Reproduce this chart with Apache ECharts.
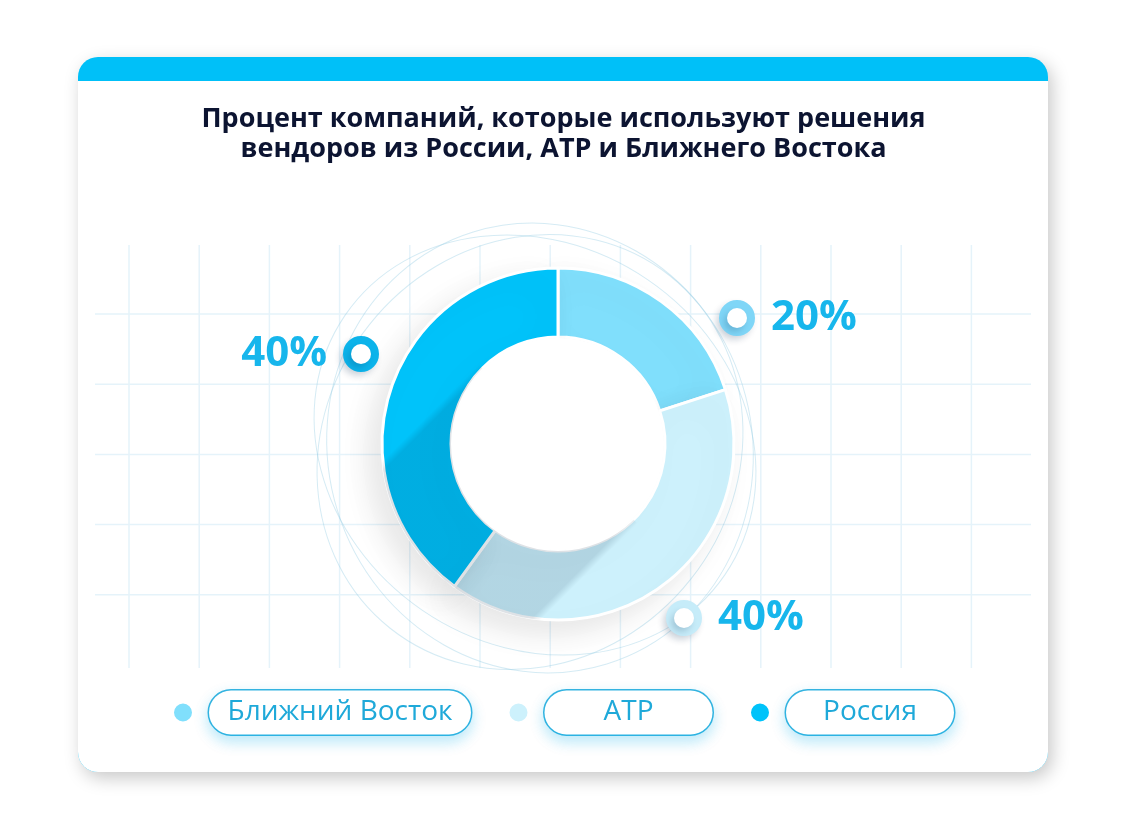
<!DOCTYPE html>
<html>
<head>
    <meta charset="utf-8">
    <title>Процент компаний</title>
    <script src="https://cdn.jsdelivr.net/npm/echarts@6/dist/echarts.min.js"></script>
    <style>
        html, body { margin: 0; padding: 0; background: #fff; }
        #chart { width: 1127px; height: 815px; }
    </style>
</head>
<body>
<div id="chart"></div>
<script>
    // данные
    var categories = ['Ближний Восток', 'АТР', 'Россия'];
    var shares = [20, 40, 40];

    // оформление
    var sliceColors = ['#80dffc', '#cdf1fc', '#00c3fa'];
    var ringColors = ['#7fd6f7', '#c6ecf9', '#0cb3ea'];
    var labelSpots = [[727, 318, 'left'], [674, 618, 'left'], [371, 354, 'right']];
    var pillWidths = [262, 168, 168];

    var cx = 558, cy = 444, rIn = 107, rOut = 176;
    var labelColor = '#17b6ec';

    var myChart = echarts.init(document.getElementById('chart'));

    // фон: карточка, сетка, тонкие эллипсы
    var bg = [
        { type: 'rect', z: 0, shape: { x: 78, y: 57, width: 970, height: 715, r: 20 },
          style: { fill: '#00c0f8', shadowColor: 'rgba(0,0,0,0.22)', shadowBlur: 18, shadowOffsetX: 4, shadowOffsetY: 6 } },
        { type: 'rect', z: 0, shape: { x: 78, y: 81, width: 970, height: 691, r: [0, 0, 20, 20] },
          style: { fill: '#fff' } }
    ];
    for (var i = 0; i < 13; i++) {
        var x = 129 + i * 70.2;
        bg.push({ type: 'line', z: 1, shape: { x1: x, y1: 245, x2: x, y2: 668 },
            style: { stroke: '#e5f3fa', lineWidth: 1.5 } });
    }
    for (var j = 0; j < 5; j++) {
        var y = 314 + j * 70.2;
        bg.push({ type: 'line', z: 1, shape: { x1: 95, y1: y, x2: 1031, y2: y },
            style: { stroke: '#e5f3fa', lineWidth: 1.5 } });
    }
    [[535, 445, 230, 200, -0.6], [540, 448, 212, 226, 0.3], [530, 452, 225, 205, 0.9]].forEach(function (e) {
        bg.push({ type: 'ellipse', z: 1, x: e[0], y: e[1], rotation: e[4],
            shape: { cx: 0, cy: 0, rx: e[2], ry: e[3] },
            style: { fill: 'none', stroke: 'rgba(150,205,228,0.4)', lineWidth: 1 } });
    });

    // длинная тень от внутреннего круга
    var a = rOut;
    bg.push({
        type: 'sector', z: 5, silent: true,
        shape: { cx: cx, cy: cy, r0: rIn, r: rOut + 1, startAngle: Math.PI / 4, endAngle: Math.PI * 5 / 4, clockwise: true },
        style: {
            fill: new echarts.graphic.LinearGradient(cx - a, cy - a, cx + a, cy + a, [
                { offset: 0, color: 'rgba(0,30,60,0)' },
                { offset: 0.275, color: 'rgba(0,30,60,0)' },
                { offset: 0.29, color: 'rgba(0,30,60,0.13)' },
                { offset: 0.71, color: 'rgba(0,30,60,0.13)' },
                { offset: 0.725, color: 'rgba(0,30,60,0)' },
                { offset: 1, color: 'rgba(0,30,60,0)' }
            ], true)
        }
    });
    // чистый белый круг в центре
    bg.push({ type: 'circle', z: 6, silent: true, shape: { cx: cx, cy: cy, r: rIn - 1 }, style: { fill: '#fff' } });

    var pieData = categories.map(function (name, k) {
        var txt = k === 2 ? '{v|{c}%}{s|}{r|}' : '{r|}{s|}{v|{c}%}';
        return {
            name: name,
            value: shares[k],
            itemStyle: { color: sliceColors[k] },
            label: {
                formatter: txt,
                rich: {
                    r: { width: 20, height: 20, borderWidth: 8, borderRadius: 14, borderColor: ringColors[k],
                         backgroundColor: '#fff', verticalAlign: 'middle',
                         shadowColor: 'rgba(0,40,80,0.18)', shadowBlur: 6, shadowOffsetX: -3, shadowOffsetY: 4 }
                }
            }
        };
    });

    var rich = {};
    categories.forEach(function (name, k) {
        rich['p' + k] = {
            width: pillWidths[k], height: 44, lineHeight: 44, align: 'center', verticalAlign: 'middle',
            fontSize: 28, color: '#1fa9d9', fontFamily: 'Open Sans',
            borderColor: '#36b4e0', borderWidth: 1.5, borderRadius: 23, backgroundColor: '#fff',
            shadowColor: 'rgba(0,175,235,0.25)', shadowBlur: 14, shadowOffsetY: 6
        };
    });

    myChart.setOption({
        animation: false,
        title: {
            text: 'Процент компаний, которые используют решения\nвендоров из России, АТР и Ближнего Востока',
            left: 'center',
            top: 99,
            textStyle: { fontFamily: 'Open Sans', fontWeight: 'bold', fontSize: 27, lineHeight: 30, color: '#0c1431' }
        },
        legend: {
            data: categories,
            left: 167,
            top: 684,
            icon: 'circle',
            itemWidth: 42,
            itemHeight: 20,
            itemGap: 35,
            selectedMode: false,
            formatter: function (name) {
                return '{p' + categories.indexOf(name) + '|' + name + '}';
            },
            textStyle: { rich: rich }
        },
        graphic: { elements: bg },
        series: [{
            type: 'pie',
            z: 2,
            center: [cx, cy],
            radius: [rIn, rOut],
            startAngle: 90,
            avoidLabelOverlap: false,
            itemStyle: { borderColor: '#fff', borderWidth: 3,
                shadowColor: 'rgba(0,0,0,0.1)', shadowBlur: 30, shadowOffsetX: -12, shadowOffsetY: 12 },
            label: {
                show: true,
                position: 'outside',
                rich: {
                    v: { fontSize: 42, fontWeight: 'bold', fontFamily: 'Open Sans', color: labelColor, verticalAlign: 'middle', lineHeight: 46 },
                    s: { width: 24 }
                }
            },
            labelLine: { show: false },
            labelLayout: function (p) {
                var s = labelSpots[p.dataIndex];
                return { x: s[0], y: s[1], align: s[2], verticalAlign: 'middle' };
            },
            emphasis: { disabled: true },
            data: pieData
        }]
    });
</script>
</body>
</html>
